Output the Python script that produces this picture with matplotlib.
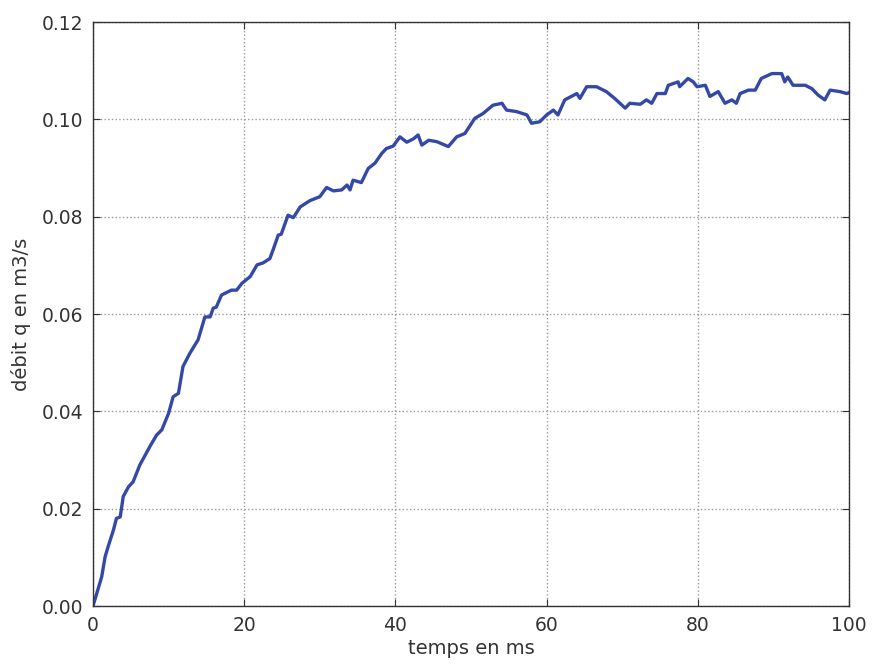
import matplotlib
matplotlib.use("Agg")
import matplotlib.pyplot as plt

# temps (ms) et débit (m3/s)
temps = [0, 0.5, 1.15, 1.6, 2.0, 2.7, 3.1, 3.6, 4.0, 4.7, 5.3, 6.2, 7.5, 8.4, 9.1,
         10.0, 10.6, 11.3, 11.9, 12.8, 13.9, 14.8, 15.5, 15.9, 16.3, 17.0, 18.3,
         19.0, 19.7, 20.8, 21.7, 22.5, 23.4, 23.8, 24.5, 24.9, 25.8, 26.5, 27.4,
         28.7, 30.0, 30.9, 31.8, 32.9, 33.6, 34.0, 34.4, 35.5, 36.4, 37.3, 38.2,
         38.8, 39.7, 40.6, 41.5, 42.4, 43.0, 43.5, 44.4, 45.5, 47.0, 48.1, 49.2,
         50.5, 51.6, 52.9, 54.1, 54.7, 56.0, 57.4, 58.0, 59.1, 60.0, 60.9, 61.5,
         62.4, 64.0, 64.4, 65.3, 66.6, 67.9, 69.0, 70.4, 71.0, 72.4, 73.2, 73.9,
         74.6, 75.7, 76.1, 77.4, 77.6, 78.7, 79.4, 79.9, 81.0, 81.6, 82.7, 83.6,
         84.5, 85.1, 85.6, 86.7, 87.6, 88.4, 89.8, 91.1, 91.5, 91.9, 92.6, 94.2,
         95.1, 95.9, 96.8, 97.5, 98.8, 99.7, 100]
debit = [0.0, 0.0026, 0.0060, 0.0101, 0.0122, 0.0156, 0.0180, 0.0183, 0.0225,
         0.0245, 0.0255, 0.0290, 0.0327, 0.0351, 0.0362, 0.0396, 0.0430, 0.0437,
         0.0492, 0.0519, 0.0547, 0.0594, 0.0594, 0.0612, 0.0614, 0.0639, 0.0649,
         0.0649, 0.0663, 0.0677, 0.0701, 0.0705, 0.0714, 0.0731, 0.0762, 0.0764,
         0.0803, 0.0798, 0.0820, 0.0833, 0.0841, 0.0860, 0.0853, 0.0855, 0.0865,
         0.0855, 0.0875, 0.0870, 0.0899, 0.0910, 0.0930, 0.0940, 0.0945, 0.0964,
         0.0953, 0.0960, 0.0968, 0.0947, 0.0957, 0.0954, 0.0944, 0.0964, 0.0971,
         0.1002, 0.1012, 0.1029, 0.1033, 0.1019, 0.1016, 0.1009, 0.0992, 0.0995,
         0.1009, 0.1019, 0.1009, 0.1040, 0.1053, 0.1043, 0.1067, 0.1067, 0.1057,
         0.1043, 0.1023, 0.1033, 0.1031, 0.1040, 0.1033, 0.1053, 0.1053, 0.1070,
         0.1077, 0.1067, 0.1084, 0.1077, 0.1067, 0.1070, 0.1047, 0.1057, 0.1033,
         0.1040, 0.1033, 0.1053, 0.1060, 0.1060, 0.1084, 0.1094, 0.1094, 0.1077,
         0.1087, 0.1070, 0.1070, 0.1063, 0.1050, 0.1040, 0.1060, 0.1057, 0.1053,
         0.1055]

xticks = [0, 20, 40, 60, 80, 100]
yticks = [0.00, 0.02, 0.04, 0.06, 0.08, 0.10, 0.12]

gris = '#333333'

fig = plt.figure(figsize=(8.74, 6.68), dpi=100)
ax = fig.add_axes([93/874, 1-606/668, (849-93)/874, (606-22)/668])

ax.plot(temps, debit, color='#3448a8', linewidth=2.4)

ax.set_xlim(0, 100)
ax.set_ylim(0, 0.12)
ax.set_xticks(xticks)
ax.set_yticks(yticks)
ax.set_xticklabels([str(v) for v in xticks])
ax.set_yticklabels(['%.2f' % v for v in yticks])

ax.tick_params(direction='in', top=True, right=True, length=5, width=0.8,
               labelsize=13.5, colors=gris, pad=7)
for s in ax.spines.values():
    s.set_color(gris)
    s.set_linewidth(1.0)

ax.grid(True, linestyle=':', color='#999999', linewidth=1.0)

ax.set_xlabel('temps en ms', fontsize=14, color=gris, labelpad=3)
ax.set_ylabel('débit q en m3/s', fontsize=14, color=gris, labelpad=8)

fig.savefig('out.png', dpi=100)
